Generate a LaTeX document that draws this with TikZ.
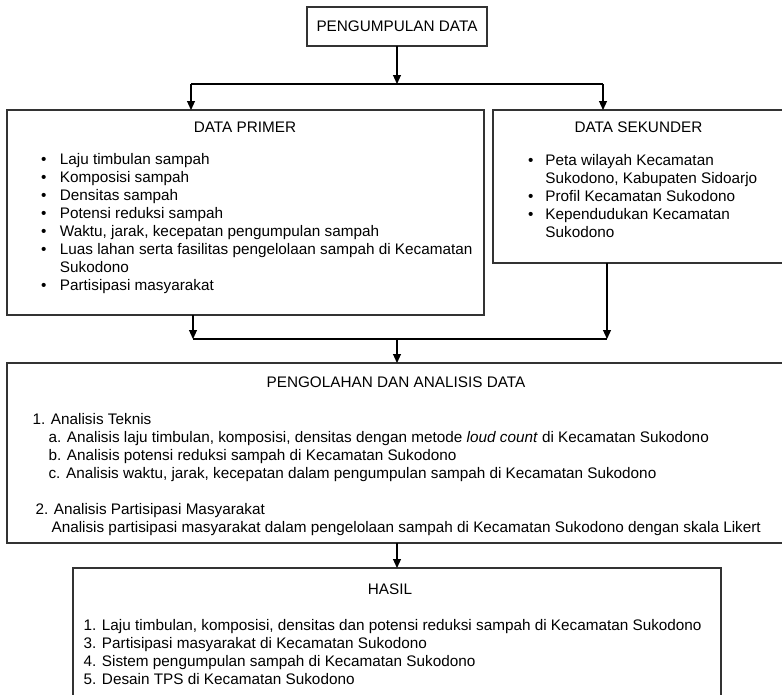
\documentclass[tikz,border=0pt]{standalone}
\usepackage{fontspec}
\setmainfont{Liberation Sans}
\usetikzlibrary{arrows.meta}

\begin{document}
\begin{tikzpicture}[x=1pt, y=-1pt, line width=1.1pt,
  box/.style={draw=black!80, inner sep=0pt, outer sep=0pt},
  arr/.style={-{Triangle[width=8pt,length=9pt]}},
  teks/.style={inner sep=0pt, font=\fontsize{15.3}{18}\selectfont}]

\clip (0,0) rectangle (782,694);

\node [box, teks, minimum width=180pt, minimum height=39pt] (kumpul) at (397,26.5) {PENGUMPULAN DATA};
\node [box, minimum width=477pt, minimum height=205pt] (primer) at (245.5,212.5) {};
\node [box, minimum width=297pt, minimum height=153pt] (sekunder) at (641.5,186.5) {};
\node [box, minimum width=783pt, minimum height=180pt] (olah) at (398.5,453) {};
\node [box, minimum width=648pt, minimum height=132pt] (hasil) at (397,634) {};

\node [teks, anchor=base] (judulPrimer) at (245,132) {DATA PRIMER};
\node [teks, anchor=base west] (isiPrimer) at (40.5,164) {\begin{tabular}[t]{@{}l@{\hspace{13.5pt}}l@{}}
\textbullet & Laju timbulan sampah\\
\textbullet & Komposisi sampah\\
\textbullet & Densitas sampah\\
\textbullet & Potensi reduksi sampah\\
\textbullet & Waktu, jarak, kecepatan pengumpulan sampah\\
\textbullet & Luas lahan serta fasilitas pengelolaan sampah di Kecamatan\\
 & Sukodono\\
\textbullet & Partisipasi masyarakat
\end{tabular}};

\node [teks, anchor=base] (judulSekunder) at (638.5,132) {DATA SEKUNDER};
\node [teks, anchor=base west] (isiSekunder) at (527.5,165) {\begin{tabular}[t]{@{}l@{\hspace{12pt}}l@{}}
\textbullet & Peta wilayah Kecamatan\\
 & Sukodono, Kabupaten Sidoarjo\\
\textbullet & Profil Kecamatan Sukodono\\
\textbullet & Kependudukan Kecamatan\\
 & Sukodono
\end{tabular}};

\node [teks, anchor=base] (judulOlah) at (396,387) {PENGOLAHAN DAN ANALISIS DATA};
\node [teks, anchor=base west] (isiOlah) at (32,424) {\begin{tabular}[t]{@{}l@{}}
1. Analisis Teknis\\
\hspace*{16pt}a. Analisis laju timbulan, komposisi, densitas dengan metode \textit{loud count} di Kecamatan Sukodono\\
\hspace*{16pt}b. Analisis potensi reduksi sampah di Kecamatan Sukodono\\
\hspace*{16pt}c. Analisis waktu, jarak, kecepatan dalam pengumpulan sampah di Kecamatan Sukodono\\
\\
\hspace*{3pt}2. Analisis Partisipasi Masyarakat\\
\hspace*{19pt}Analisis partisipasi masyarakat dalam pengelolaan sampah di Kecamatan Sukodono dengan skala Likert
\end{tabular}};

\node [teks, anchor=base] (judulHasil) at (390,594) {HASIL};
\node [teks, anchor=base west] (isiHasil) at (83,630) {\begin{tabular}[t]{@{}l@{}}
1. Laju timbulan, komposisi, densitas dan potensi reduksi sampah di Kecamatan Sukodono\\
3. Partisipasi masyarakat di Kecamatan Sukodono\\
4. Sistem pengumpulan sampah di Kecamatan Sukodono\\
5. Desain TPS di Kecamatan Sukodono
\end{tabular}};

\coordinate (pisah) at (397,84);
\coordinate (pisahKiri) at (191,84);
\coordinate (pisahKanan) at (603,84);
\draw [arr] (kumpul) -- (pisah);
\draw (pisahKiri) -- (pisahKanan);
\draw [arr] (pisahKiri) -- (pisahKiri |- primer.north);
\draw [arr] (pisahKanan) -- (pisahKanan |- sekunder.north);

\coordinate (gabung) at (397,339);
\coordinate (gabungKiri) at (193,339);
\coordinate (gabungKanan) at (607,339);
\draw [arr] (primer.south -| gabungKiri) -- (gabungKiri);
\draw [arr] (sekunder.south -| gabungKanan) -- (gabungKanan);
\draw (gabungKiri) -- (gabungKanan);
\draw [arr] (gabung) -- (gabung |- olah.north);
\draw [arr] (olah.south -| hasil.north) -- (hasil.north);

\end{tikzpicture}
\end{document}
